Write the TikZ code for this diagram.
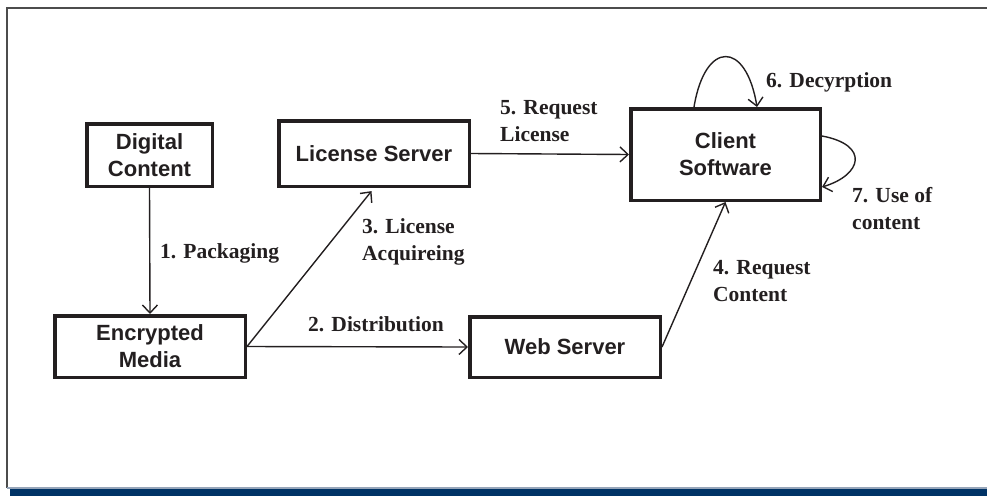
\documentclass[tikz,border=0pt]{standalone}
\usepackage{fontspec}
\setmainfont{Liberation Serif}
\newfontfamily\boxfont{Liberation Sans}
\usepackage{xcolor}
\usetikzlibrary{arrows.meta}
\definecolor{ink}{RGB}{35,31,32}
\definecolor{barblue}{RGB}{0,51,102}
\definecolor{bargrey}{RGB}{150,165,185}
\tikzset{
    box/.style={draw=ink, line width=3.5pt, fill=white, text=ink, align=center, inner sep=0pt,
        font=\boxfont\bfseries\fontsize{22}{27}\selectfont},
    lbl/.style={anchor=west, align=left, text=ink, inner sep=0pt,
        font=\bfseries\fontsize{21.5}{27}\selectfont},
    flow/.style={draw=ink, line width=1.4pt, arrows={-Straight Barb[length=8pt,width=15pt]}}
}

\begin{document}
\begin{tikzpicture}[x=1pt,y=-1pt]
        \useasboundingbox (0,0) rectangle (987,496);
        % frame
        \draw [line width=1.2pt, draw=gray!60!black] (987,8) -- (7,8) -- (7,488);
        \fill [bargrey] (7,486.5) rectangle (987,489);
        \fill [barblue] (10,489) rectangle (987,496);
        % boxes
        \node [box, minimum width=125.5, minimum height=62.5] (digital) at (149.5,155) {Digital\\Content};
        \node [box, minimum width=190.5, minimum height=65.5] (license) at (374,153.5) {License Server};
        \node [box, minimum width=190.5, minimum height=61.5] (encrypted) at (150,346.5) {Encrypted\\Media};
        \node [box, minimum width=190.5, minimum height=60.5] (web) at (565,347) {Web Server};
        \node [box, minimum width=189.5, minimum height=91.5] (client) at (725.5,154.5) {Client\\Software};
        % arrows
        \draw [flow] (digital.south) -- (encrypted.north);
        \draw [flow] (encrypted.east) -- (web.west);
        \draw [flow, shorten >=4pt] (encrypted.east) -- (license.south);
        \draw [flow] (web.east) -- (client.south);
        \draw [flow] (license.east) -- (client.west);
        \draw [flow] ([xshift=-31.5pt]client.north) .. controls +(11,-67) and +(-11,-67) .. ([xshift=31.5pt]client.north);
        \draw [flow] ([yshift=18.5pt]client.east) .. controls +(48,9) and +(40,-12) .. ([yshift=-32.5pt]client.east);
        % labels
        \node [lbl] (packaging) at (160,253) {1. Packaging};
        \node [lbl] (distribution) at (308,324) {2. Distribution};
        \node [lbl] (acquire) at (362,241.5) {3. License\\Acquireing};
        \node [lbl] (reqcontent) at (713,281.5) {4. Request\\Content};
        \node [lbl] (reqlicense) at (500,121.5) {5. Request\\License};
        \node [lbl] (decrypt) at (766,82) {6. Decyrption};
        \node [lbl] (use) at (852,208.5) {7. Use of\\content};
    \end{tikzpicture}
\end{document}
